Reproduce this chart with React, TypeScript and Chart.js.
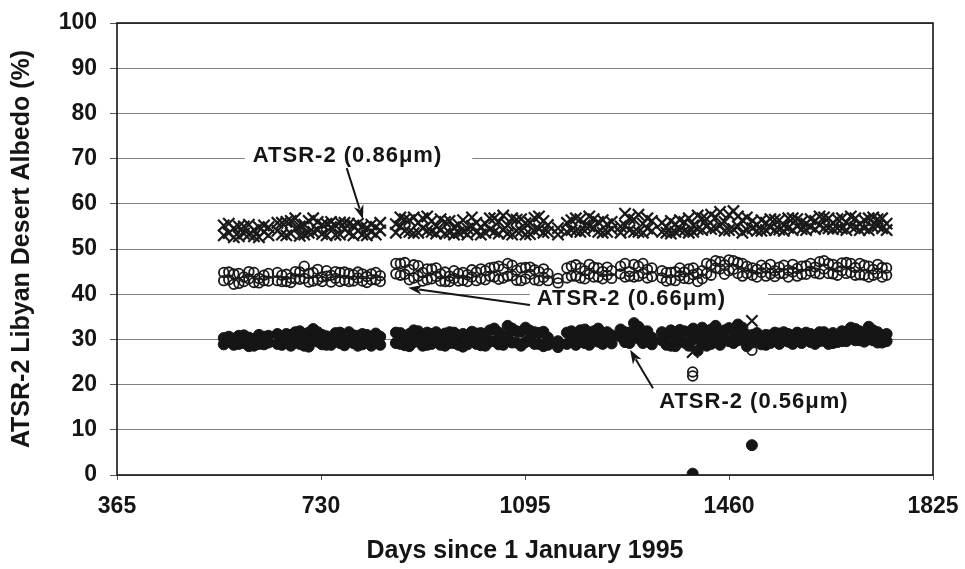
import React, { useEffect, useRef } from "react";
import { Chart, registerables } from "chart.js";

Chart.register(...registerables);

// Measurement dates (days since 1 January 1995), shared by the three channels
const days = [
  556, 565, 574, 583, 592, 601, 610, 619, 628, 636,
  652, 660, 668, 676, 684, 692, 700, 708, 716, 724, 732, 740, 748, 756, 764, 772, 780, 788, 796, 804, 812, 820, 828, 836,
  864, 872, 880, 888, 896, 904, 912, 920, 928, 936, 944, 952, 960, 968, 976, 984, 992, 1000, 1008, 1016, 1024, 1032, 1040, 1048, 1056, 1064, 1072, 1080, 1088, 1096, 1104, 1112, 1120, 1128, 1136,
  1154,
  1170, 1178, 1186, 1194, 1202, 1210, 1218, 1226, 1234, 1242, 1250,
  1266, 1274, 1282, 1290, 1298, 1306, 1314, 1322,
  1340, 1348, 1356, 1364, 1372, 1380, 1388, 1396, 1404, 1412, 1420, 1428, 1436, 1444,
  1452, 1460, 1468, 1476, 1484, 1492,
  1502, 1510, 1518, 1526, 1534, 1542, 1550, 1558, 1566, 1574, 1582, 1590, 1598, 1606, 1614, 1622, 1630, 1638, 1646, 1654, 1662, 1670, 1678, 1686, 1694, 1702, 1710, 1718, 1726, 1734, 1742,
];

// Two readings per date (e.g. nadir / forward view)
const albedo086a = [
  55.2, 53.5, 54.6, 52.8, 55.0, 53.2, 54.2, 52.6, 53.8, 54.8,
  54.0, 55.8, 53.0, 56.2, 54.5, 52.9, 55.4, 53.6, 56.8, 54.2, 53.3, 55.6, 54.8, 53.1, 55.9, 54.4, 53.5, 55.2, 54.0, 53.2, 54.7, 53.8, 54.9, 54.1,
  55.5, 57.0, 54.0, 56.4, 53.5, 55.8, 54.6, 57.2, 53.8, 55.0, 54.2, 56.0, 53.6, 54.8, 55.4, 53.9, 54.5, 55.1, 53.7, 54.9, 55.6, 54.3, 56.8, 53.4, 57.4, 55.2, 53.2, 56.5, 54.0, 55.7, 53.3, 56.9, 54.4, 53.6, 55.3,
  53.2,
  55.8, 54.2, 56.8, 53.8, 55.2, 57.2, 54.6, 56.0, 53.6, 55.5, 54.4,
  55.0, 57.8, 54.2, 56.5, 53.8, 55.6, 54.5, 56.2,
  53.8, 54.9, 53.4, 55.5, 54.2, 56.0, 53.6, 55.2, 54.4, 56.8, 55.0, 57.6, 54.6, 58.2,
  56.0, 54.2, 58.4, 55.0, 53.6, 57.0,
  54.6, 55.4, 54.0, 55.8, 54.8, 56.5, 54.3, 55.2, 54.7, 56.8, 55.0, 54.4, 55.6, 54.9, 56.2, 55.3, 57.0, 54.6, 55.8, 56.6, 54.5, 55.9, 57.2, 54.8, 55.5, 56.4, 54.2, 57.0, 55.1, 54.6, 55.6,
];
const albedo086b = [
  53.0, 55.6, 52.6, 55.0, 53.4, 55.4, 52.8, 54.8, 55.2, 53.0,
  55.8, 53.2, 56.0, 53.4, 56.8, 55.0, 53.2, 56.2, 53.8, 56.0, 55.4, 53.0, 56.0, 55.2, 53.2, 55.8, 55.6, 53.0, 55.6, 55.0, 53.0, 55.4, 53.2, 55.8,
  53.6, 55.0, 56.6, 53.8, 57.0, 53.6, 56.8, 54.0, 56.2, 53.4, 56.6, 53.4, 56.2, 53.2, 53.6, 56.4, 53.2, 57.0, 55.8, 53.2, 53.6, 56.8, 53.8, 56.0, 54.2, 53.4, 56.8, 54.0, 56.6, 53.2, 55.8, 54.0, 57.2, 56.2, 53.8,
  54.6,
  53.8, 56.4, 54.0, 56.6, 54.0, 55.0, 56.6, 53.8, 56.4, 53.8, 56.0,
  53.6, 55.2, 56.8, 53.8, 57.6, 53.6, 56.8, 54.0,
  55.8, 53.6, 56.2, 53.8, 56.4, 54.0, 56.8, 53.8, 57.4, 54.2, 56.6, 54.4, 57.0, 55.2,
  54.0, 57.6, 54.4, 57.2, 56.4, 54.2,
  56.2, 54.0, 56.4, 54.2, 56.6, 54.2, 56.4, 54.0, 56.8, 54.2, 56.6, 56.0, 54.2, 56.6, 54.4, 57.2, 54.6, 56.8, 54.4, 54.6, 56.8, 54.2, 55.0, 56.8, 54.2, 54.6, 56.8, 54.8, 56.6, 56.8, 54.2,
];

const albedo066a = [
  44.8, 43.2, 44.5, 42.4, 43.8, 45.0, 42.6, 43.5, 44.2, 42.9,
  43.0, 44.2, 42.8, 43.6, 45.0, 43.3, 46.2, 44.6, 42.9, 45.5, 43.8, 44.0, 42.7, 43.5, 44.8, 43.1, 42.8, 44.3, 43.6, 42.9, 43.9, 44.5, 43.2, 44.1,
  46.8, 44.2, 47.0, 45.5, 43.6, 46.3, 44.8, 43.2, 45.6, 43.9, 44.5, 42.8, 44.0, 43.5, 44.6, 43.1, 44.3, 43.8, 44.9, 43.4, 45.2, 44.0, 46.0, 43.3, 45.6, 46.8, 44.1, 45.3, 43.0, 45.9, 44.4, 43.2, 45.0, 43.7, 44.6,
  43.5,
  45.8, 44.0, 46.5, 43.6, 45.2, 44.4, 46.0, 43.8, 45.0, 44.2, 43.5,
  44.5, 46.8, 45.0, 43.8, 46.2, 44.6, 45.5, 43.9,
  43.6, 44.8, 43.2, 45.0, 44.1, 43.5, 45.6, 44.3, 42.8, 45.2, 44.6, 46.5, 45.8, 47.2,
  46.5, 47.6, 45.5, 47.0, 44.0, 46.2,
  44.2, 45.5, 44.8, 45.8, 44.5, 45.2, 46.0, 44.6, 45.3, 44.9, 45.7, 44.4, 46.3, 45.1, 44.7, 47.2, 45.6, 46.8, 44.5, 46.0, 45.2, 47.0, 44.8, 45.9, 44.3, 46.4, 43.8, 45.5, 44.6, 45.9, 44.2,
];
const albedo066b = [
  43.0, 44.9, 42.2, 44.6, 42.8, 43.4, 44.8, 42.5, 43.0, 44.6,
  44.8, 42.8, 44.4, 42.6, 43.4, 44.9, 43.5, 42.7, 44.8, 43.2, 42.8, 45.2, 44.2, 45.0, 42.8, 44.9, 44.6, 42.9, 44.9, 44.5, 42.6, 43.2, 44.8, 42.8,
  44.5, 46.8, 44.4, 43.2, 46.5, 44.0, 42.9, 45.6, 43.4, 45.8, 42.9, 44.9, 42.8, 45.2, 42.9, 44.8, 42.8, 45.4, 43.0, 45.6, 43.2, 45.8, 43.8, 46.2, 43.6, 44.0, 46.4, 43.1, 45.8, 43.4, 46.0, 45.4, 43.0, 45.6, 43.0,
  42.5,
  43.6, 46.2, 44.0, 45.8, 43.4, 46.6, 43.8, 45.8, 43.4, 46.0, 45.2,
  46.2, 43.8, 44.0, 46.6, 44.0, 46.8, 43.6, 45.8,
  45.2, 42.9, 44.8, 43.0, 45.8, 44.9, 43.4, 45.8, 44.6, 43.4, 46.8, 44.2, 47.4, 45.6,
  44.4, 45.2, 47.4, 44.6, 46.8, 44.6,
  45.8, 43.8, 46.4, 44.0, 46.6, 43.9, 44.6, 46.4, 43.8, 46.6, 44.0, 46.2, 44.4, 46.8, 46.0, 44.5, 47.4, 44.6, 46.6, 44.2, 46.9, 44.6, 46.8, 44.2, 46.8, 44.2, 46.2, 44.2, 46.6, 43.8, 45.8,
];

const albedo056a = [
  30.3, 29.5, 28.8, 30.8, 29.2, 28.5, 30.1, 29.0, 30.6, 29.3,
  29.0, 30.5, 31.2, 28.6, 29.8, 31.8, 30.2, 28.4, 32.3, 29.5, 31.0, 28.8, 30.4, 29.6, 31.5, 28.7, 30.0, 29.2, 30.8, 28.9, 29.7, 30.3, 29.4, 30.6,
  31.5, 29.0, 30.8, 28.5, 32.0, 29.6, 30.3, 28.8, 31.2, 29.4, 30.0, 28.6, 31.6, 29.2, 30.5, 28.4, 30.9, 29.8, 31.3, 28.7, 30.2, 29.5, 32.4, 28.9, 30.7, 33.0, 29.3, 31.8, 28.6, 32.6, 30.1, 29.0, 31.4, 28.5, 30.4,
  28.3,
  31.5, 29.6, 30.8, 32.0, 29.2, 31.0, 30.3, 29.5, 31.4, 30.0, 29.1,
  30.6, 29.4, 31.5, 33.6, 30.2, 31.8, 29.6, 30.4,
  29.8, 31.0, 28.6, 30.5, 32.1, 29.3, 31.6, 30.0, 27.5, 32.6, 30.8, 29.0, 33.0, 31.2,
  30.0, 32.5, 29.2, 33.3, 30.6, 28.5,
  31.0, 29.6, 30.4, 28.8, 30.9, 29.8, 31.3, 30.2, 29.5, 30.8, 29.9, 31.1, 30.3, 29.4, 30.7, 31.6, 29.7, 30.5, 29.2, 30.9, 31.8, 29.6, 30.4, 32.3, 29.8, 31.4, 30.0, 32.0, 29.3, 30.6, 31.2,
];
const albedo056b = [
  28.9, 30.6, 30.2, 29.0, 30.9, 30.4, 28.6, 31.0, 28.9, 30.8,
  31.2, 28.8, 29.5, 30.9, 31.6, 29.0, 28.6, 31.5, 29.8, 31.6, 28.9, 30.7, 28.8, 31.4, 29.2, 30.8, 31.6, 30.9, 28.6, 31.2, 31.0, 28.6, 31.3, 28.8,
  29.2, 31.4, 28.7, 31.2, 29.4, 31.8, 28.6, 31.5, 29.0, 31.6, 28.8, 31.3, 29.2, 31.5, 28.8, 31.2, 28.9, 31.7, 29.0, 31.4, 28.6, 32.0, 29.6, 31.5, 28.8, 30.6, 32.4, 29.3, 31.7, 29.4, 31.9, 31.6, 29.0, 31.7, 28.8,
  29.6,
  29.0, 31.8, 28.8, 30.0, 32.2, 28.8, 31.8, 32.4, 29.0, 31.6, 30.9,
  32.2, 31.6, 29.2, 31.4, 32.8, 29.2, 31.8, 28.9,
  31.6, 28.8, 32.0, 28.5, 29.6, 31.8, 28.6, 32.4, 30.5, 29.0, 28.6, 32.2, 30.0, 28.8,
  32.0, 29.6, 31.6, 29.8, 32.6, 31.0,
  29.3, 31.4, 28.9, 31.0, 29.2, 31.5, 29.0, 31.6, 31.2, 29.0, 31.5, 29.2, 31.5, 31.2, 29.0, 29.6, 31.6, 29.0, 31.4, 29.4, 29.6, 31.7, 32.6, 29.8, 31.8, 29.5, 32.8, 29.8, 31.6, 29.3, 29.6,
];

// Outlying measurements
const extraDays086 = [1395, 1501];
const extraVals086 = [27.2, 34.1];
const extraDays066 = [1395, 1395, 1501];
const extraVals066 = [22.8, 21.9, 27.6];
const extraDays056 = [1395, 1501];
const extraVals056 = [0.3, 6.6];

const xTicks = [365, 730, 1095, 1460, 1825];
const yTicks = [0, 10, 20, 30, 40, 50, 60, 70, 80, 90, 100];

// Annotations (data coordinates)
const labelTexts = ["ATSR-2 (0.86\u03BCm)", "ATSR-2 (0.66\u03BCm)", "ATSR-2 (0.56\u03BCm)"];
const labelDays = [608, 1116, 1335];
const labelVals = [70.6, 38.9, 16.2];
const arrowFromDays = [776, 1104, 1324];
const arrowFromVals = [67.9, 37.6, 19.2];
const arrowToDays = [805, 886, 1283];
const arrowToVals = [56.6, 41.4, 27.7];

const FONT = "'Liberation Sans', Arial, Helvetica, sans-serif";

function toPoints(xs: number[], ysA: number[], ysB: number[], exXs: number[], exYs: number[]) {
  const pts: { x: number; y: number }[] = [];
  xs.forEach((x, i) => {
    pts.push({ x, y: ysA[i] });
    pts.push({ x, y: ysB[i] });
  });
  exXs.forEach((x, i) => pts.push({ x, y: exYs[i] }));
  return pts;
}

const framePlugin = {
  id: "frameAndNotes",
  beforeDatasetsDraw(chart: any) {
    const { ctx, chartArea: a } = chart;
    ctx.save();
    ctx.strokeStyle = "#151515";
    ctx.lineWidth = 1.6;
    ctx.strokeRect(a.left, a.top, a.right - a.left, a.bottom - a.top);
    ctx.restore();
  },
  afterDraw(chart: any) {
    const { ctx } = chart;
    const xs = chart.scales.x;
    const ys = chart.scales.y;
    const padL = [8, 7, 0];
    const padR = [30, 42, 0];
    ctx.save();
    ctx.font = `bold 22px ${FONT}`;
    try { (ctx as any).letterSpacing = "1px"; } catch (e) {}
    ctx.textBaseline = "middle";
    ctx.textAlign = "left";
    labelTexts.forEach((t, i) => {
      const px = xs.getPixelForValue(labelDays[i]);
      const py = ys.getPixelForValue(labelVals[i]);
      const w = ctx.measureText(t).width;
      if (padL[i] || padR[i]) {
        ctx.fillStyle = "#ffffff";
        ctx.fillRect(px - padL[i], py - 10, w + padL[i] + padR[i], 20);
      }
      ctx.fillStyle = "#151515";
      ctx.fillText(t, px, py);
    });
    try { (ctx as any).letterSpacing = "0px"; } catch (e) {}
    ctx.strokeStyle = "#151515";
    ctx.fillStyle = "#151515";
    ctx.lineWidth = 2;
    arrowFromDays.forEach((d, i) => {
      const fx = xs.getPixelForValue(d);
      const fy = ys.getPixelForValue(arrowFromVals[i]);
      const tx = xs.getPixelForValue(arrowToDays[i]);
      const ty = ys.getPixelForValue(arrowToVals[i]);
      const ang = Math.atan2(ty - fy, tx - fx);
      const len = 14;
      const half = 5;
      const bx = tx - len * Math.cos(ang);
      const by = ty - len * Math.sin(ang);
      ctx.beginPath();
      ctx.moveTo(fx, fy);
      ctx.lineTo(bx + 3 * Math.cos(ang), by + 3 * Math.sin(ang));
      ctx.stroke();
      ctx.beginPath();
      ctx.moveTo(tx, ty);
      ctx.lineTo(bx - half * Math.sin(ang), by + half * Math.cos(ang));
      ctx.lineTo(bx + 4 * Math.cos(ang), by + 4 * Math.sin(ang));
      ctx.lineTo(bx + half * Math.sin(ang), by - half * Math.cos(ang));
      ctx.closePath();
      ctx.fill();
    });
    ctx.restore();
  },
};

export default function App() {
  const ref = useRef<HTMLCanvasElement | null>(null);

  useEffect(() => {
    document.body.style.margin = "0";
    const canvas = ref.current;
    if (!canvas) return;
    const tickFont = { family: FONT, size: 23, weight: "bold" as const };
    const titleFont = { family: FONT, size: 25, weight: "bold" as const };
    const chart = new Chart(canvas, {
      type: "scatter",
      data: {
        datasets: [
          {
            label: "ATSR-2 (0.86\u03BCm)",
            data: toPoints(days, albedo086a, albedo086b, extraDays086, extraVals086),
            pointStyle: "crossRot",
            pointRadius: 8,
            pointBorderWidth: 2.2,
            borderColor: "#1a1a1a",
            backgroundColor: "#1a1a1a",
          },
          {
            label: "ATSR-2 (0.66\u03BCm)",
            data: toPoints(days, albedo066a, albedo066b, extraDays066, extraVals066),
            pointStyle: "circle",
            pointRadius: 4.8,
            pointBorderWidth: 1.8,
            borderColor: "#1a1a1a",
            backgroundColor: "rgba(255,255,255,0)",
          },
          {
            label: "ATSR-2 (0.56\u03BCm)",
            data: toPoints(days, albedo056a, albedo056b, extraDays056, extraVals056),
            pointStyle: "circle",
            pointRadius: 5.5,
            pointBorderWidth: 1,
            borderColor: "#151515",
            backgroundColor: "#151515",
          },
        ],
      },
      options: {
        animation: false,
        responsive: false,
        devicePixelRatio: 1,
        layout: { padding: { left: 0, top: 23, right: 32, bottom: 0 } },
        plugins: { legend: { display: false }, tooltip: { enabled: false } },
        scales: {
          x: {
            type: "linear",
            min: 365,
            max: 1825,
            afterBuildTicks: (s: any) => {
              s.ticks = xTicks.map((v) => ({ value: v }));
            },
            afterFit: (s: any) => {
              s.height = 94;
              s.paddingLeft = 0;
              s.paddingRight = 0;
            },
            ticks: {
              font: tickFont,
              color: "#151515",
              padding: 13,
              maxRotation: 0,
              callback: (v: any) => String(v),
            },
            grid: { drawOnChartArea: false, drawTicks: true, tickLength: 5, color: "#555" },
            border: { display: false },
            title: {
              display: true,
              text: "Days since 1 January 1995",
              font: titleFont,
              color: "#151515",
              padding: { top: 0, bottom: 3 },
            },
          },
          y: {
            type: "linear",
            min: 0,
            max: 100,
            afterBuildTicks: (s: any) => {
              s.ticks = yTicks.map((v) => ({ value: v }));
            },
            afterFit: (s: any) => {
              s.width = 117;
              s.paddingTop = 0;
              s.paddingBottom = 0;
            },
            ticks: { font: tickFont, color: "#151515", padding: 13, callback: (v: any) => String(v) },
            grid: { color: "#808080", lineWidth: 1, tickLength: 7, tickColor: "#555" },
            border: { display: false },
            title: {
              display: true,
              text: "ATSR-2 Libyan Desert Albedo (%)",
              font: titleFont,
              color: "#151515",
              padding: { top: 7, bottom: 0 },
            },
          },
        },
      },
      plugins: [framePlugin],
    });
    return () => chart.destroy();
  }, []);

  return (
    <div style={{ width: 965, height: 569, background: "#fff" }}>
      <canvas ref={ref} width={965} height={569} style={{ display: "block" }} />
    </div>
  );
}
